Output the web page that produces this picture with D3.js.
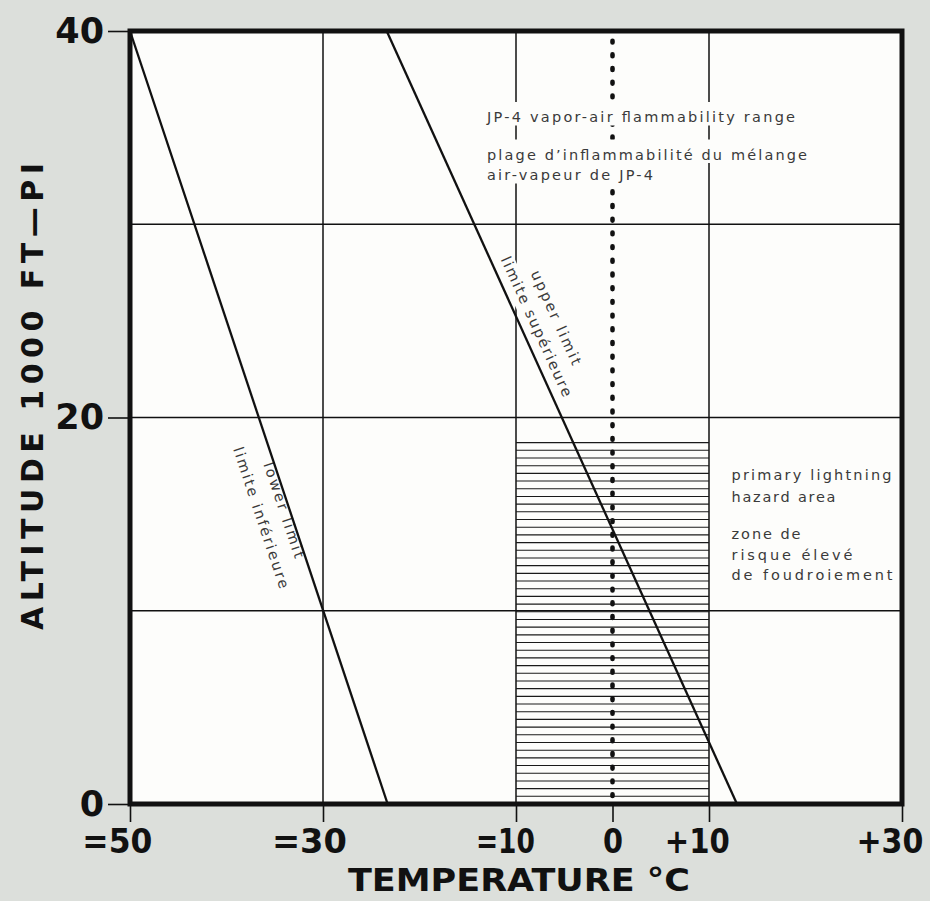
<!DOCTYPE html>
<html><head><meta charset="utf-8">
<script src="https://cdn.jsdelivr.net/npm/d3@7"></script>
<style>html,body{margin:0;padding:0;background:#dcdfdb;} svg{display:block}</style>
</head><body>
<svg id="chart" width="930" height="901"></svg>
<script>
// ---- data ----
const xTicks = [-50, -30, -10, 0, 10, 30];
const xTickLabels = ["=50", "=30", "=10", "0", "+10", "+30"];
const yTicks = [0, 20, 40];
const yTickLabels = ["0", "20", "40"];
const xGrid = [-30, -10, 10];
const yGrid = [10, 20, 30];
const lowerLimit = [[-50, 40], [-23.3, 0]];
const upperLimit = [[-23.4, 40], [12.9, 0]];
const freezingLine = [[0, 0], [0, 40]];
const hazardTemps = [-10, 10];
const hazardTop = 18.7;
const hatchCount = 47;
const flammTexts = ["JP-4 vapor-air flammability range", "plage d’inflammabilité du mélange", "air-vapeur de JP-4"];
const hazardTexts = ["primary lightning", "hazard area", "zone de", "risque élevé", "de foudroiement"];
const lowerTexts = ["lower limit", "limite inférieure"];
const upperTexts = ["upper limit", "limite supérieure"];
const xTitle = "TEMPERATURE °C";
const yTitle = "ALTITUDE 1000 FT—PI";

// ---- layout ----
const svg = d3.select("#chart");
const x = d3.scaleLinear().domain([-50, 30]).range([130, 902]);
const y = d3.scaleLinear().domain([0, 40]).range([804, 31]);
const boldFont = "'DejaVu Sans', 'Liberation Sans', sans-serif";
const lightFont = "'DejaVu Sans', 'Open Sans', sans-serif";
const ink = "#111";
const xLabelWidths = [70, 75, 59, 20, 65, 67];

svg.append("rect").attr("width", 930).attr("height", 901).attr("fill", "#dcdfdb");

// plot background
svg.append("rect")
  .attr("x", x(-50)).attr("y", y(40))
  .attr("width", x(30) - x(-50)).attr("height", y(0) - y(40))
  .attr("fill", "#fdfdfb");

// grid
const grid = svg.append("g").attr("stroke", ink).attr("stroke-width", 1.5);
grid.selectAll("line.vx").data(xGrid).join("line")
  .attr("x1", d => x(d)).attr("x2", d => x(d)).attr("y1", y(40)).attr("y2", y(0));
grid.selectAll("line.hy").data(yGrid).join("line")
  .attr("y1", d => y(d)).attr("y2", d => y(d)).attr("x1", x(-50)).attr("x2", x(30));

// hatched hazard area
const hatchLevels = d3.range(hatchCount + 1).map(i => hazardTop * i / hatchCount);
svg.append("g").attr("stroke", "#1a1a1a").attr("stroke-width", 1.1)
  .selectAll("line").data(hatchLevels).join("line")
  .attr("x1", x(hazardTemps[0])).attr("x2", x(hazardTemps[1]))
  .attr("y1", d => y(d)).attr("y2", d => y(d));

// freezing dotted line
const lineGen = d3.line().x(d => x(d[0])).y(d => y(d[1]));
svg.append("path").datum(freezingLine).attr("d", lineGen)
  .attr("fill", "none").attr("stroke", ink).attr("stroke-width", 4.6)
  .attr("stroke-linecap", "round").attr("stroke-dasharray", "1.8 11.9")
  .attr("stroke-dashoffset", -8);

// knockout layer + text layer
const knock = svg.append("g").attr("fill", "#fdfdfb");
const texts = svg.append("g").attr("font-family", lightFont).attr("font-size", 14.5).attr("fill", "#3a3a3a");

// flammability text block
const flammX = 487, flammBase = [122, 159.5, 180], flammW = [308, 320, 166];
flammTexts.forEach((t, i) => {
  knock.append("rect").attr("x", flammX - 3).attr("y", flammBase[i] - 20)
    .attr("width", flammW[i] + 6).attr("height", 23.5);
  texts.append("text").attr("x", flammX).attr("y", flammBase[i])
    .attr("textLength", flammW[i]).attr("lengthAdjust", "spacing").text(t);
});

// hazard text block
const hazX = 731.5, hazBase = [480, 502, 539, 560, 580], hazW = [160, 104, 69, 121, 161];
hazardTexts.forEach((t, i) => {
  texts.append("text").attr("x", hazX).attr("y", hazBase[i])
    .attr("textLength", hazW[i]).attr("lengthAdjust", "spacing").text(t);
});

// limit lines labels
function lineLabels(pts, labels, altC, offsets, widths) {
  const p0 = [x(pts[0][0]), y(pts[0][1])], p1 = [x(pts[1][0]), y(pts[1][1])];
  const ang = Math.atan2(p1[1] - p0[1], p1[0] - p0[0]);
  const deg = ang * 180 / Math.PI;
  const n = [Math.sin(ang), -Math.cos(ang)];
  const f = (pts[0][1] - altC) / (pts[0][1] - pts[1][1]);
  const c = [p0[0] + (p1[0] - p0[0]) * f, p0[1] + (p1[1] - p0[1]) * f];
  labels.forEach((t, i) => {
    const px = c[0] + n[0] * offsets[i], py = c[1] + n[1] * offsets[i];
    const tr = `translate(${px},${py}) rotate(${deg})`;
    knock.append("rect").attr("transform", tr)
      .attr("x", -widths[i] / 2 - 3).attr("y", -13).attr("width", widths[i] + 6).attr("height", 19);
    texts.append("text").attr("transform", tr).attr("text-anchor", "middle")
      .attr("textLength", widths[i]).attr("lengthAdjust", "spacing").text(t);
  });
}
lineLabels(upperLimit, upperTexts, 24.4, [31, 9.5], [102, 152]);
lineLabels(lowerLimit, lowerTexts, 15.3, [-10.5, -34.5], [100, 148]);

// limit lines
svg.selectAll("path.limit").data([lowerLimit, upperLimit]).join("path")
  .attr("class", "limit").attr("d", lineGen)
  .attr("fill", "none").attr("stroke", ink).attr("stroke-width", 2.3);

// frame
svg.append("rect")
  .attr("x", x(-50)).attr("y", y(40))
  .attr("width", x(30) - x(-50)).attr("height", y(0) - y(40))
  .attr("fill", "none").attr("stroke", ink).attr("stroke-width", 5);

// axes
const xAxis = d3.axisBottom(x).tickValues(xTicks).tickSize(18).tickPadding(8)
  .tickFormat((d, i) => xTickLabels[i]);
const xg = svg.append("g").attr("transform", `translate(0,${y(0)})`).call(xAxis);
xg.select(".domain").remove();
xg.selectAll(".tick line").attr("stroke", ink).attr("stroke-width", 1.6);
xg.selectAll(".tick text").attr("font-family", boldFont).attr("font-weight", "bold")
  .attr("font-size", 33).attr("fill", ink).attr("dy", "0.69em")
  .each(function(d, i) {
    const t = d3.select(this);
    const lab = xTickLabels[i];
    const num = lab.replace(/^[=+]/, "");
    t.text(num);
    const nw = this.getComputedTextLength();
    t.text(lab);
    const fw = this.getComputedTextLength();
    const s = xLabelWidths[i] / fw;
    t.attr("textLength", xLabelWidths[i]).attr("lengthAdjust", "spacingAndGlyphs")
      .attr("text-anchor", "end").attr("x", nw * s / 2);
  });

const yAxis = d3.axisLeft(y).tickValues(yTicks).tickSize(22).tickPadding(4)
  .tickFormat((d, i) => yTickLabels[i]);
const yg = svg.append("g").attr("transform", `translate(${x(-50)},0)`).call(yAxis);
yg.select(".domain").remove();
yg.selectAll(".tick line").attr("stroke", ink).attr("stroke-width", 1.6);
yg.selectAll(".tick text").attr("font-family", boldFont).attr("font-weight", "bold")
  .attr("font-size", 35).attr("fill", ink);

// titles
svg.append("text").attr("x", 519).attr("y", 891).attr("text-anchor", "middle")
  .attr("font-family", boldFont).attr("font-weight", "bold").attr("font-size", 32)
  .attr("fill", ink).attr("textLength", 342).attr("lengthAdjust", "spacingAndGlyphs")
  .text(xTitle);
svg.append("text").attr("transform", "translate(43,396.5) rotate(-90)").attr("text-anchor", "middle")
  .attr("font-family", boldFont).attr("font-weight", "bold").attr("font-size", 30)
  .attr("fill", ink).attr("textLength", 467).attr("lengthAdjust", "spacing")
  .text(yTitle);
</script>
</body></html>
